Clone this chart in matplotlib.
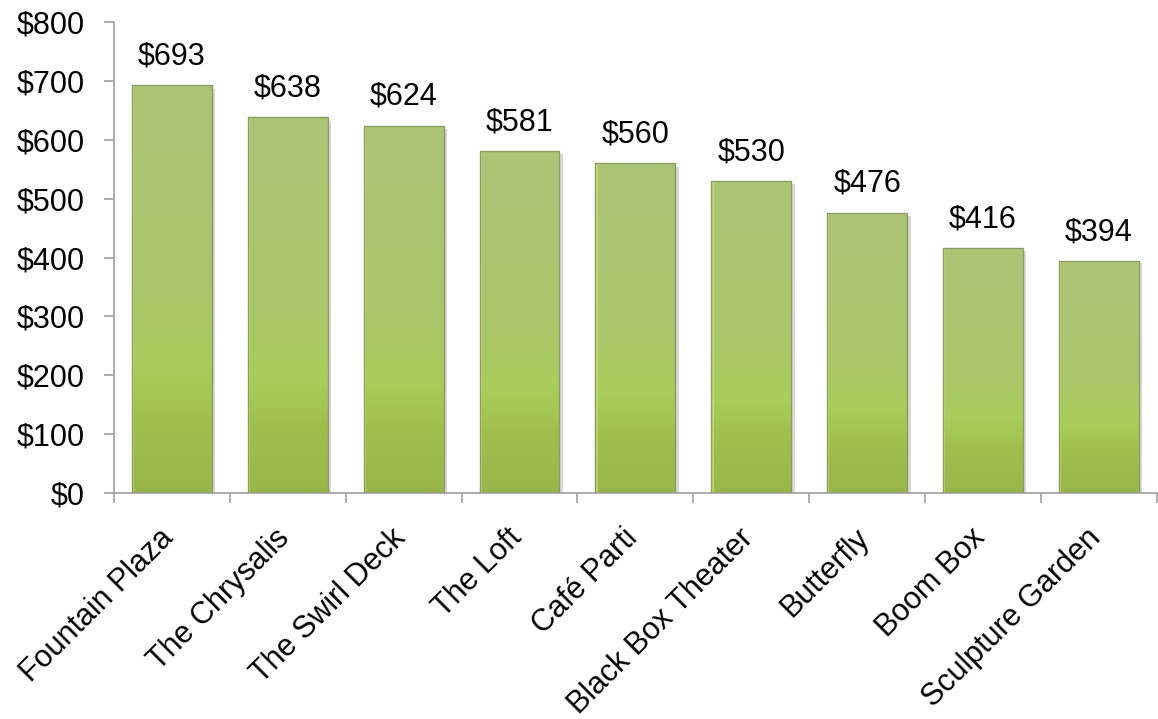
import numpy as np
import matplotlib.pyplot as plt
from matplotlib.colors import LinearSegmentedColormap
from matplotlib.patches import Rectangle
from matplotlib.transforms import ScaledTranslation, blended_transform_factory

plt.rcParams['font.family'] = ['Liberation Sans', 'DejaVu Sans']

venues = ['Fountain Plaza', 'The Chrysalis', 'The Swirl Deck', 'The Loft', 'Café Parti',
          'Black Box Theater', 'Butterfly', 'Boom Box', 'Sculpture Garden']
revenue = [693, 638, 624, 581, 560, 530, 476, 416, 394]

fig = plt.figure(figsize=(11.58, 7.19), dpi=100)
ax = fig.add_axes([0.0984, 0.3143, 0.9006, 0.6551])

x = np.arange(len(venues))
width = 0.69
bars = ax.bar(x, revenue, width=width, color='none', edgecolor='#8c9d62', linewidth=1.0, zorder=3)

# vertical green gradient inside each bar: pale olive at top, bright green lower down, darker at base
cmap = LinearSegmentedColormap.from_list('bar_green', [
    (0.0, '#9ab64a'), (0.18, '#a0c04e'), (0.3, '#a9cd5a'), (0.5, '#abc76c'), (1.0, '#aec478')])
grad = np.linspace(0, 1, 256).reshape(-1, 1)
for b, v in zip(bars, revenue):
    x0 = b.get_x()
    # soft shadow to the right of the bar
    ax.add_patch(Rectangle((x0 + width, 0), 0.03, v * 0.99, color='#d9d9d9', zorder=1, linewidth=0))
    im = ax.imshow(grad, cmap=cmap, extent=[x0, x0 + width, 0, v], origin='lower',
                   aspect='auto', zorder=2, interpolation='bilinear')
    im.set_clip_path(b)
    # light highlight along the left edge
    ax.add_patch(Rectangle((x0, 0), 0.02, v, color='#c8e07a', alpha=0.7, zorder=2.5, linewidth=0))
    ax.annotate(f'${v}', (x0 + width / 2, v), xytext=(0, 10), textcoords='offset points',
                ha='center', va='bottom', fontsize=22)

ax.set_xlim(-0.5, len(venues) - 0.5)
ax.set_ylim(0, 800)
ax.set_yticks(range(0, 801, 100))
ax.set_yticklabels([f'${t}' for t in range(0, 801, 100)], fontsize=22)
ax.set_xticks(np.arange(len(venues) + 1) - 0.5)
ax.set_xticklabels([])
ax.tick_params(axis='x', length=7, color='#a0a0a0', width=1.2)
ax.tick_params(axis='y', length=7, color='#a0a0a0', width=1.2, pad=14)

# slanted category names under each bar
label_tr = blended_transform_factory(ax.transData, ax.transAxes) + \
    ScaledTranslation(-0.13, -0.30, fig.dpi_scale_trans)
for xi, name in zip(x, venues):
    ax.text(xi, 0, name, transform=label_tr, rotation=45, ha='right', va='top',
            rotation_mode='anchor', fontsize=22, clip_on=False)

for side in ['top', 'right']:
    ax.spines[side].set_visible(False)
for side in ['left', 'bottom']:
    ax.spines[side].set_color('#a0a0a0')
    ax.spines[side].set_linewidth(1.2)

fig.savefig('out.png', dpi=100)
